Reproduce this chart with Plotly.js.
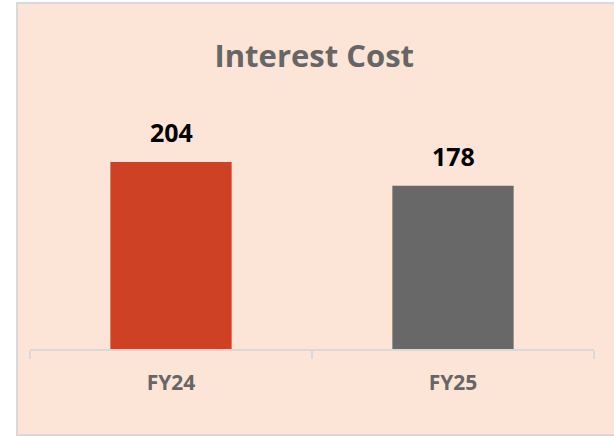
<!DOCTYPE html>
<html>
<head>
<meta charset="utf-8">
<script src="https://cdn.plot.ly/plotly-3.0.1.min.js"></script>
<style>
  html, body { margin: 0; padding: 0; background: #FCE4D6; overflow: hidden; }
  #white { position: absolute; left: 0; top: 0; width: 16px; height: 437px; background: #ffffff; }
  #whiteTop { position: absolute; left: 0; top: 0; width: 700px; height: 2px; background: #ffffff; }
  #box { position: absolute; left: 16px; top: 2px; width: 700px; height: 434px;
         box-sizing: border-box; border: 2px solid #d9d9d9; border-right: none; background: #FCE4D6; }
  #whiteBottom { position: absolute; left: 0; top: 436px; width: 700px; height: 10px; background: #ffffff; }
  #chart { position: absolute; left: 0; top: 0; width: 614px; height: 437px; }
</style>
</head>
<body>
<div id="white"></div>
<div id="whiteTop"></div>
<div id="whiteBottom"></div>
<div id="box"></div>
<div id="chart"></div>
<script>
const categories = ["FY24", "FY25"];
const values = [204, 178];
const barColors = ["#CE4125", "#686868"];
const chartTitle = "Interest Cost";

const trace = {
  type: "bar",
  x: categories,
  y: values,
  marker: { color: barColors },
  hoverinfo: "skip"
};

const annotations = categories.map((c, i) => ({
  x: c, y: values[i], xref: "x", yref: "y",
  text: "<b>" + values[i] + "</b>",
  showarrow: false, yanchor: "middle", yshift: 30,
  font: { family: "Open Sans, sans-serif", size: 25, color: "#000000" }
}));

const layout = {
  width: 614, height: 437,
  paper_bgcolor: "rgba(0,0,0,0)",
  plot_bgcolor: "rgba(0,0,0,0)",
  margin: { l: 30, r: 20, t: 138, b: 88 },
  bargap: 0.57,
  showlegend: false,
  title: {
    text: "<b>" + chartTitle + "</b>",
    x: 0.504, xref: "paper", xanchor: "center",
    y: 1 - 56 / 437, yref: "container", yanchor: "middle",
    font: { family: "Open Sans, sans-serif", size: 31, color: "#666666" }
  },
  xaxis: {
    showline: true, linecolor: "#d9d9d9", linewidth: 2,
    ticks: "outside", tickson: "boundaries", ticklen: 8, tickwidth: 2, tickcolor: "#d9d9d9",
    tickfont: { family: "Open Sans, sans-serif", size: 21, color: "#666666" },
    tickprefix: "<b>", ticksuffix: "</b>",
    ticklabelstandoff: 14,
    showgrid: false, zeroline: false, fixedrange: true
  },
  yaxis: {
    range: [0, 230.2], visible: false, showgrid: false, zeroline: false, fixedrange: true
  },
  annotations: annotations
};

Plotly.newPlot("chart", [trace], layout, { displayModeBar: false, staticPlot: true });
</script>
</body>
</html>
